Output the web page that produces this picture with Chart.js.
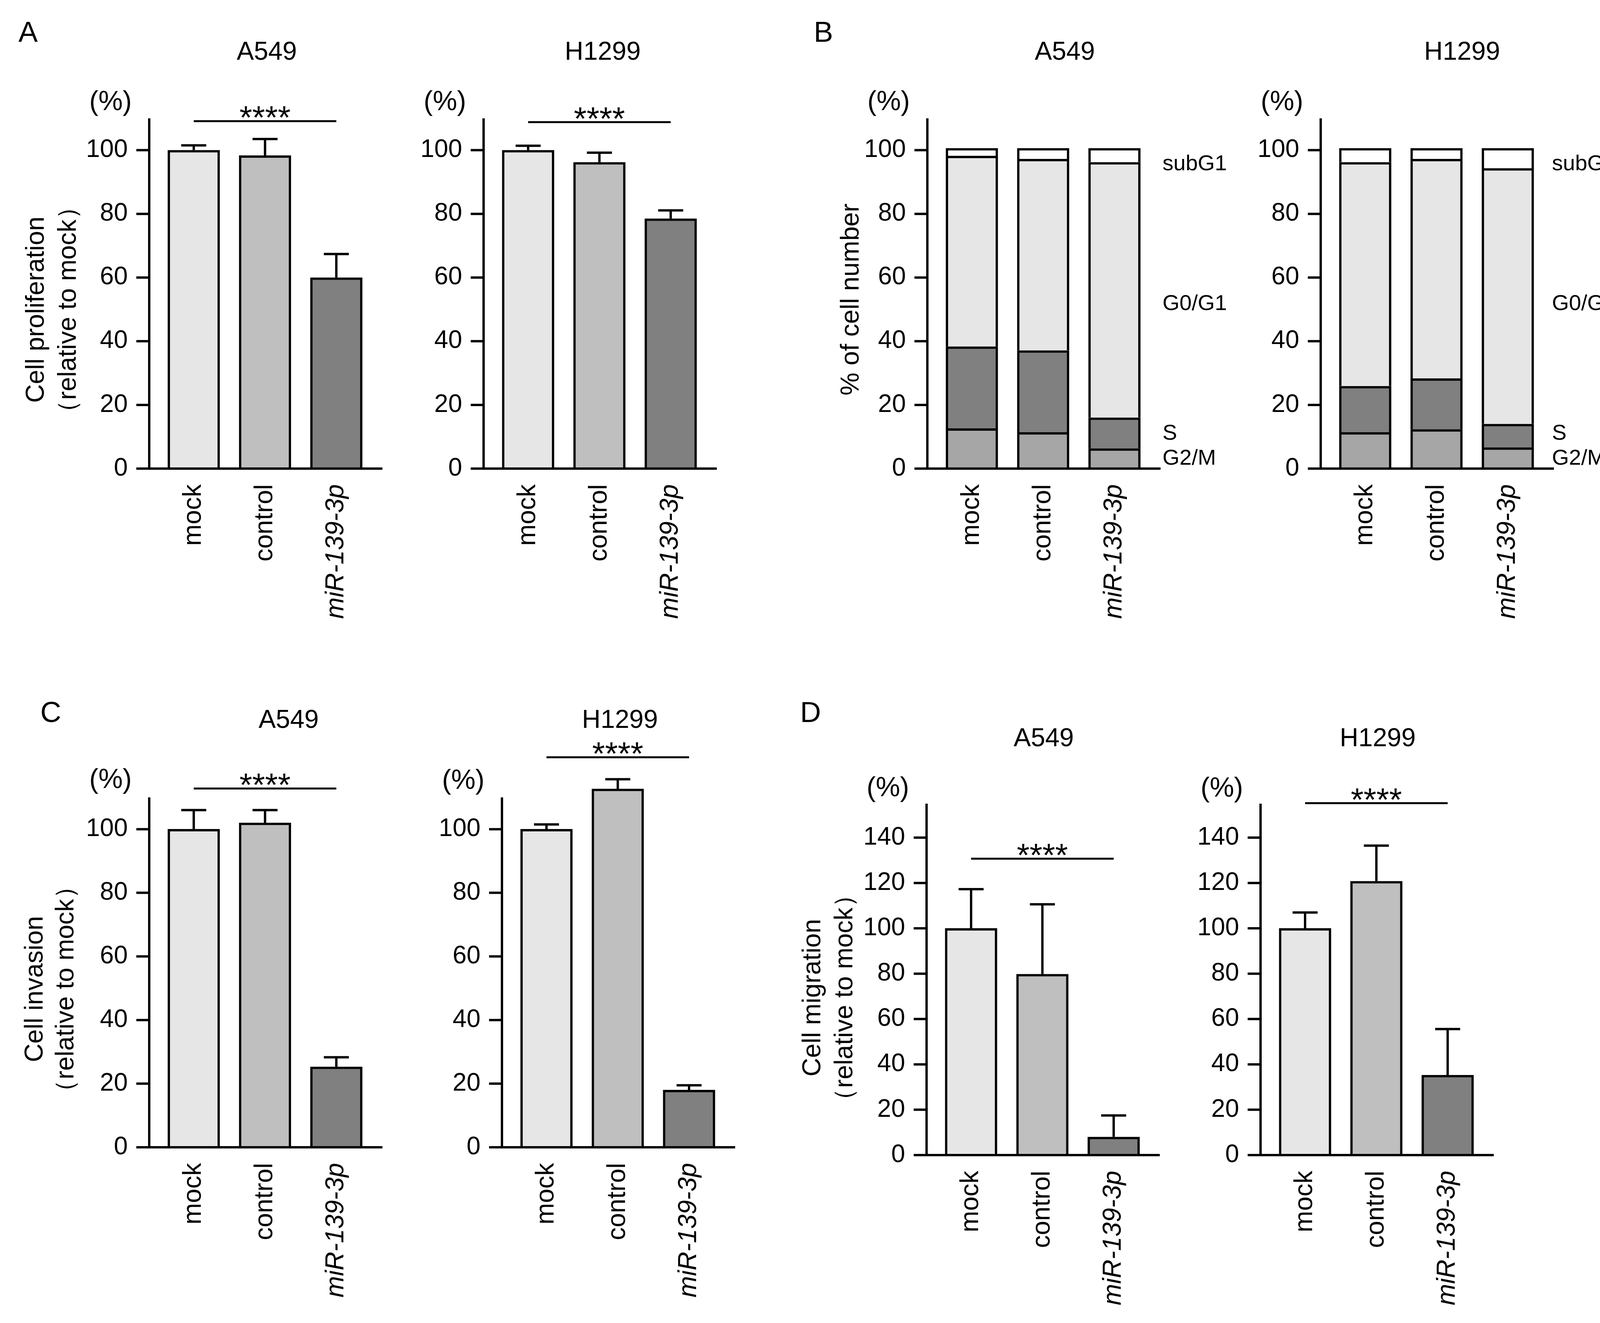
<!DOCTYPE html>
<html>
<head>
<meta charset="utf-8">
<script src="https://cdn.jsdelivr.net/npm/chart.js@4.4.1/dist/chart.umd.min.js"></script>
<style>
  html, body { margin:0; padding:0; background:#fff; overflow:hidden; }
  body { position:relative; width:4186px; height:3388px; }
  canvas { position:absolute; }
  .panel { position:absolute; font-family:'Liberation Sans', Arial, Helvetica, sans-serif; font-size:74px; line-height:1; transform:translate(-50%,-50%); color:#000; }
</style>
</head>
<body>
<div class="panel" style="left:72px;top:82px">A</div>
<div class="panel" style="left:2108px;top:82px">B</div>
<div class="panel" style="left:130px;top:1824px">C</div>
<div class="panel" style="left:2075px;top:1824px">D</div>
<script>
const FONT = "'Liberation Sans', Arial, Helvetica, sans-serif";

// ---------- data ----------
const categories = ['mock', 'control', 'miR-139-3p'];
const barColors = ['#e6e6e6', '#bfbfbf', '#808080'];
const ticks110 = [0, 20, 40, 60, 80, 100];
const ticks155 = [0, 20, 40, 60, 80, 100, 120, 140];
const sigLabel = '****';

// A: cell proliferation
const prolifA549 = [100, 98.3, 60.0];
const prolifA549Err = [1.5, 5.2, 7.4];
const prolifH1299 = [100, 96.2, 78.5];
const prolifH1299Err = [1.4, 3.0, 2.6];

// B: cell cycle (stacked, bottom to top)
const phaseNames = ['G2/M', 'S', 'G0/G1', 'subG1'];
const phaseColors = ['#a6a6a6', '#808080', '#e6e6e6', '#ffffff'];
const cycleA549G2M = [12.6, 11.4, 6.3];
const cycleA549S = [25.7, 25.7, 9.7];
const cycleA549G0G1 = [59.9, 60.1, 80.2];
const cycleA549SubG1 = [2.4, 3.4, 4.4];
const cycleH1299G2M = [11.4, 12.3, 6.6];
const cycleH1299S = [14.5, 16.0, 7.4];
const cycleH1299G0G1 = [70.3, 68.9, 80.3];
const cycleH1299SubG1 = [4.4, 3.4, 6.3];

// C: cell invasion
const invasionA549 = [100, 102.0, 25.3];
const invasionA549Err = [6.0, 4.0, 3.0];
const invasionH1299 = [100, 112.7, 18.0];
const invasionH1299Err = [1.5, 3.0, 1.5];

// D: cell migration
const migrationA549 = [100, 79.8, 8.0];
const migrationA549Err = [17.3, 30.8, 9.5];
const migrationH1299 = [100, 120.8, 35.3];
const migrationH1299Err = [7.0, 15.7, 20.3];

// significance bracket heights (in axis units)
const sigHeightA549Prolif = 109.1, sigHeightH1299Prolif = 108.8;
const sigHeightA549Inv = 112.8, sigHeightH1299Inv = 122.6;
const sigHeightA549Mig = 130.7, sigHeightH1299Mig = 155.2;

// ---------- layout ----------
const LEFTW = 380, AXW = 597, PADT = 300, BOTH = 420, W = 1180;
const FIRST = 114, STEP = 182.5, BARW = 133, LW = 6, CAP = 32, TICKLEN = 33, XEXT = 30;
const GAP = FIRST - STEP / 2;           // distance from y axis line to category area
const YW = LEFTW + GAP;                  // y-scale box width
const RIGHTPAD = W - YW - 3 * STEP;      // right layout padding

function singleSeries(vals) {
  return [{ data: vals, backgroundColor: barColors }];
}
function stackedSeries(list) {
  return list.map((vals, k) => ({ label: phaseNames[k], data: vals, backgroundColor: phaseColors[k] }));
}

const panels = [
  { axisX: 382, yTop: 303, y0: 1200, yMax: 110, ticks: ticks110, datasets: singleSeries(prolifA549), vals: prolifA549, err: prolifA549Err,
    sig: sigHeightA549Prolif, title: 'A549', titleDx: 301, titleY: 135, pctY: 259,
    yTitle: ['Cell proliferation', '（relative to mock）'], yTitleDx: [-288, -206], yTitleY: 793 },
  { axisX: 1238, yTop: 303, y0: 1200, yMax: 110, ticks: ticks110, datasets: singleSeries(prolifH1299), vals: prolifH1299, err: prolifH1299Err,
    sig: sigHeightH1299Prolif, title: 'H1299', titleDx: 305, titleY: 135, pctY: 259 },
  { axisX: 2374, yTop: 303, y0: 1200, yMax: 110, ticks: ticks110, stacked: true,
    datasets: stackedSeries([cycleA549G2M, cycleA549S, cycleA549G0G1, cycleA549SubG1]),
    title: 'A549', titleDx: 352, titleY: 135, pctY: 259,
    yTitle: ['% of cell number'], yTitleDx: [-194], yTitleY: 767,
    phaseDx: 602, phaseY: [1175, 1111, 779, 421] },
  { axisX: 3381, yTop: 303, y0: 1200, yMax: 110, ticks: ticks110, stacked: true,
    datasets: stackedSeries([cycleH1299G2M, cycleH1299S, cycleH1299G0G1, cycleH1299SubG1]),
    title: 'H1299', titleDx: 362, titleY: 135, pctY: 259,
    phaseDx: 592, phaseY: [1175, 1111, 779, 421] },
  { axisX: 382, yTop: 2042, y0: 2938, yMax: 110, ticks: ticks110, datasets: singleSeries(invasionA549), vals: invasionA549, err: invasionA549Err,
    sig: sigHeightA549Inv, title: 'A549', titleDx: 357, titleY: 1846, pctY: 1995,
    yTitle: ['Cell invasion', '（relative to mock）'], yTitleDx: [-291, -212], yTitleY: 2533 },
  { axisX: 1285, yTop: 2042, y0: 2938, yMax: 110, ticks: ticks110, datasets: singleSeries(invasionH1299), vals: invasionH1299, err: invasionH1299Err,
    sig: sigHeightH1299Inv, title: 'H1299', titleDx: 302, titleY: 1846, pctY: 1997 },
  { axisX: 2372, yTop: 2058, y0: 2958, yMax: 155, ticks: ticks155, datasets: singleSeries(migrationA549), vals: migrationA549, err: migrationA549Err,
    sig: sigHeightA549Mig, title: 'A549', titleDx: 300, titleY: 1893, pctY: 2016,
    yTitle: ['Cell migration', '（relative to mock）'], yTitleDx: [-290, -208], yTitleY: 2555 },
  { axisX: 3227, yTop: 2058, y0: 2958, yMax: 155, ticks: ticks155, datasets: singleSeries(migrationH1299), vals: migrationH1299, err: migrationH1299Err,
    sig: sigHeightH1299Mig, title: 'H1299', titleDx: 300, titleY: 1893, pctY: 2017 }
];

Chart.defaults.font.family = FONT;
Chart.defaults.color = '#000';

function makePanel(p) {
  const plotH = p.y0 - p.yTop;
  const H = PADT + plotH + BOTH;
  const offX = p.axisX - LEFTW, offY = p.yTop - PADT;
  const cv = document.createElement('canvas');
  cv.width = W; cv.height = H;
  cv.style.left = offX + 'px'; cv.style.top = offY + 'px';
  cv.style.width = W + 'px'; cv.style.height = H + 'px';
  document.body.appendChild(cv);

  const deco = {
    id: 'deco',
    afterDraw(chart) {
      const ctx = chart.ctx, ca = chart.chartArea;
      const xs = chart.scales.x, ys = chart.scales.y;
      const ax = ca.left - GAP;
      ctx.save();
      ctx.strokeStyle = '#000'; ctx.fillStyle = '#000';
      ctx.lineWidth = LW; ctx.lineCap = 'butt';
      // y axis + ticks
      ctx.beginPath();
      ctx.moveTo(ax, ca.top); ctx.lineTo(ax, ca.bottom + LW / 2);
      p.ticks.forEach(v => {
        const y = ys.getPixelForValue(v);
        ctx.moveTo(ax - TICKLEN, y); ctx.lineTo(ax, y);
      });
      ctx.stroke();
      // x axis
      ctx.beginPath();
      ctx.moveTo(ax - XEXT, ca.bottom); ctx.lineTo(ax + AXW, ca.bottom);
      ctx.stroke();
      // error bars
      if (p.err) {
        p.err.forEach((e, i) => {
          const x = xs.getPixelForValue(i);
          const yb = ys.getPixelForValue(p.vals[i]);
          const yt = ys.getPixelForValue(p.vals[i] + e);
          ctx.beginPath();
          ctx.moveTo(x, yb); ctx.lineTo(x, yt);
          ctx.moveTo(x - CAP, yt); ctx.lineTo(x + CAP, yt);
          ctx.stroke();
        });
      }
      // significance bracket
      if (p.sig !== undefined) {
        const yb = ys.getPixelForValue(p.sig);
        ctx.lineWidth = 5;
        ctx.beginPath();
        ctx.moveTo(xs.getPixelForValue(0), yb); ctx.lineTo(xs.getPixelForValue(2), yb);
        ctx.stroke();
        ctx.font = '84px ' + FONT;
        ctx.textAlign = 'center'; ctx.textBaseline = 'alphabetic';
        const m = ctx.measureText(sigLabel);
        const asc = m.actualBoundingBoxAscent, desc = m.actualBoundingBoxDescent;
        const targetCenter = yb - 23;
        ctx.fillText(sigLabel, xs.getPixelForValue(1), targetCenter + (asc - desc) / 2);
      }
      // title
      ctx.textAlign = 'center'; ctx.textBaseline = 'middle';
      ctx.font = '66px ' + FONT;
      ctx.fillText(p.title, LEFTW + p.titleDx, p.titleY - offY);
      // (%)
      ctx.font = '70px ' + FONT;
      ctx.fillText('(%)', LEFTW - 99, p.pctY - offY + 4);
      // y title
      if (p.yTitle) {
        ctx.font = '66px ' + FONT;
        p.yTitle.forEach((t, k) => {
          ctx.save();
          ctx.translate(LEFTW + p.yTitleDx[k], p.yTitleY - offY);
          ctx.rotate(-Math.PI / 2);
          ctx.textAlign = 'center'; ctx.textBaseline = 'middle';
          ctx.fillText(t, 0, 0);
          ctx.restore();
        });
      }
      // phase labels
      if (p.phaseY) {
        ctx.font = '56px ' + FONT;
        ctx.textAlign = 'left'; ctx.textBaseline = 'middle';
        phaseNames.forEach((n, k) => {
          ctx.fillText(n, LEFTW + p.phaseDx, p.phaseY[k] - offY);
        });
      }
      ctx.restore();
    }
  };

  const datasets = p.datasets.map(d => Object.assign({
    borderColor: '#000', borderWidth: LW, barThickness: BARW, borderSkipped: 'start', clip: false
  }, d));

  new Chart(cv, {
    type: 'bar',
    data: { labels: categories, datasets },
    options: {
      responsive: false, animation: false, devicePixelRatio: 1,
      layout: { padding: { top: PADT, right: RIGHTPAD, left: 0, bottom: 0 } },
      plugins: { legend: { display: false }, tooltip: { enabled: false } },
      scales: {
        x: {
          type: 'category', offset: true, stacked: !!p.stacked,
          afterFit: s => { s.height = BOTH; },
          grid: { display: false, drawTicks: false },
          border: { display: false },
          ticks: {
            autoSkip: false, minRotation: 90, maxRotation: 90, padding: 40, color: '#000',
            font: c => ({ family: FONT, size: 66, style: c.index === 2 ? 'italic' : 'normal' })
          }
        },
        y: {
          stacked: !!p.stacked, min: 0, max: p.yMax,
          afterFit: s => { s.width = YW; },
          afterBuildTicks: s => { s.ticks = p.ticks.map(v => ({ value: v })); },
          grid: { display: false, drawTicks: false },
          border: { display: false },
          ticks: { padding: GAP + TICKLEN + 22, color: '#000', font: { family: FONT, size: 64 } }
        }
      }
    },
    plugins: [deco]
  });
}

panels.forEach(makePanel);
</script>
</body>
</html>
